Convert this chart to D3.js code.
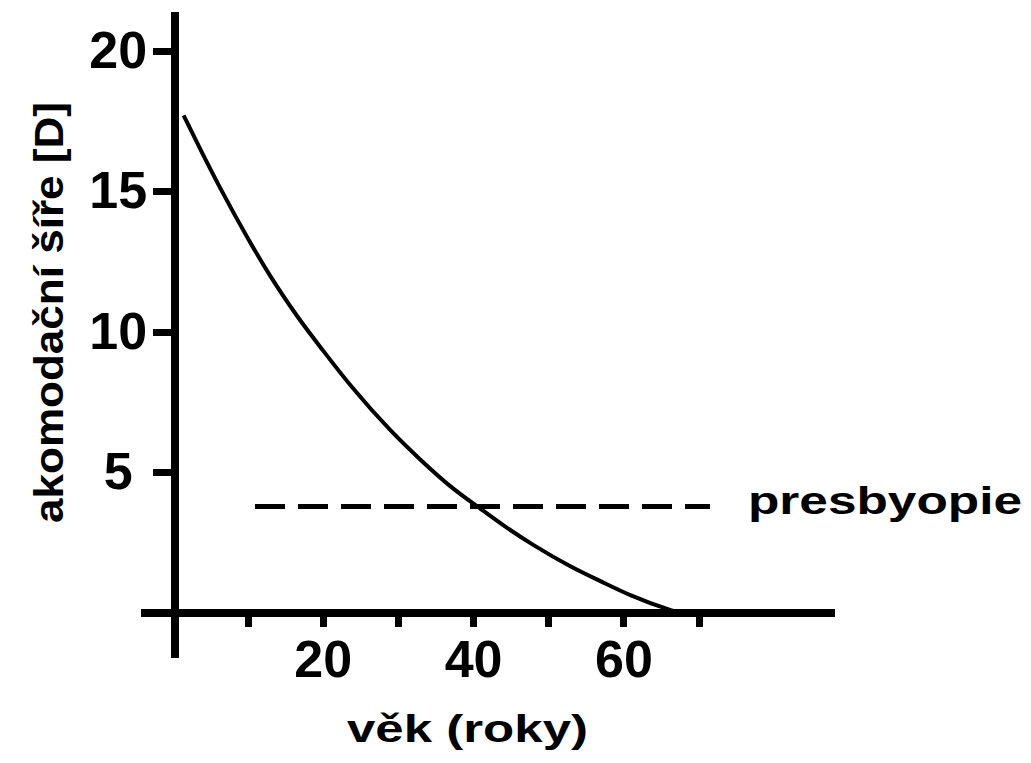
<!DOCTYPE html>
<html>
<head>
<meta charset="utf-8">
<script src="https://cdn.jsdelivr.net/npm/d3@7/dist/d3.min.js"></script>
<style>
  html, body { margin: 0; padding: 0; background: #fff; }
  svg { display: block; }
  text { font-family: "Liberation Sans", Arial, sans-serif; font-weight: bold; fill: #000; }
</style>
</head>
<body>
<script>
// ---- data ----
const ages = [1.5, 4, 6.5, 10, 13, 16.5, 20, 24, 29, 33, 37, 41, 44, 48, 53, 57, 61, 66, 67.5];
const accommodation = [17.7, 16.35, 15.05, 13.35, 12.0, 10.6, 9.35, 8.0, 6.5, 5.45, 4.5, 3.7, 3.12, 2.42, 1.65, 1.12, 0.62, 0.12, 0];
const presbyopiaLevel = [3.77];
const presbyopiaAges = [11, 71.5];
const xTicks = [10, 20, 30, 40, 50, 60, 70];
const xTickLabels = {20: "20", 40: "40", 60: "60"};
const yTicks = [5, 10, 15, 20];
const xTitle = "věk (roky)";
const yTitle = "akomodační šíře [D]";
const lineLabel = "presbyopie";

const W = 1031, H = 763;
const svg = d3.select("body").append("svg").attr("width", W).attr("height", H);

const x = d3.scaleLinear().domain([-4.3, 88]).range([140, 834]);
const y = d3.scaleLinear().domain([-1.6, 21.4]).range([657.8, 11.5]);

// curve
const line = d3.line().x((d, i) => x(ages[i])).y(d => y(d)).curve(d3.curveMonotoneX);
svg.append("path")
  .attr("d", line(accommodation))
  .attr("fill", "none")
  .attr("stroke", "#000")
  .attr("stroke-width", 4);

// presbyopia dashed line
svg.append("line")
  .attr("x1", x(presbyopiaAges[0])).attr("x2", x(presbyopiaAges[1]))
  .attr("y1", y(presbyopiaLevel[0])).attr("y2", y(presbyopiaLevel[0]))
  .attr("stroke", "#000").attr("stroke-width", 5)
  .attr("stroke-dasharray", "30,13")
  .attr("shape-rendering", "crispEdges");

// x axis
const xAxisG = svg.append("g")
  .attr("transform", `translate(0,${y(0)})`)
  .call(d3.axisBottom(x).tickValues(xTicks).tickSizeOuter(0).tickSizeInner(14).tickPadding(13)
    .tickFormat(d => xTickLabels[d] || ""));
xAxisG.select(".domain").attr("stroke", "#000").attr("stroke-width", 8).attr("shape-rendering", "crispEdges");
xAxisG.selectAll(".tick line").attr("stroke", "#000").attr("stroke-width", 7).attr("shape-rendering", "crispEdges");
xAxisG.selectAll(".tick text").attr("font-size", 52).attr("font-family", "Liberation Sans, Arial, sans-serif").attr("font-weight", "bold").attr("fill", "#000");

// y axis
const yAxisG = svg.append("g")
  .attr("transform", `translate(${x(0) + 1.8},0)`)
  .call(d3.axisLeft(y).tickValues(yTicks).tickSizeOuter(0).tickSizeInner(21).tickFormat(d3.format("d")));
yAxisG.select(".domain").attr("stroke", "#000").attr("stroke-width", 8).attr("shape-rendering", "crispEdges");
yAxisG.selectAll(".tick line").attr("stroke", "#000").attr("stroke-width", 7).attr("shape-rendering", "crispEdges");
yAxisG.selectAll(".tick text").attr("font-size", 52).attr("font-family", "Liberation Sans, Arial, sans-serif").attr("font-weight", "bold").attr("fill", "#000")
  .attr("text-anchor", "middle").attr("x", -56);

// titles
svg.append("text")
  .attr("x", 467.5).attr("y", 742)
  .attr("text-anchor", "middle")
  .attr("font-size", 38)
  .attr("textLength", 241).attr("lengthAdjust", "spacingAndGlyphs")
  .text(xTitle);

svg.append("text")
  .attr("transform", "translate(63,312.5) rotate(-90)")
  .attr("text-anchor", "middle")
  .attr("font-size", 40)
  .attr("textLength", 421).attr("lengthAdjust", "spacingAndGlyphs")
  .text(yTitle);

svg.append("text")
  .attr("x", 748).attr("y", 514)
  .attr("font-size", 38)
  .attr("textLength", 274).attr("lengthAdjust", "spacingAndGlyphs")
  .text(lineLabel);
</script>
</body>
</html>
